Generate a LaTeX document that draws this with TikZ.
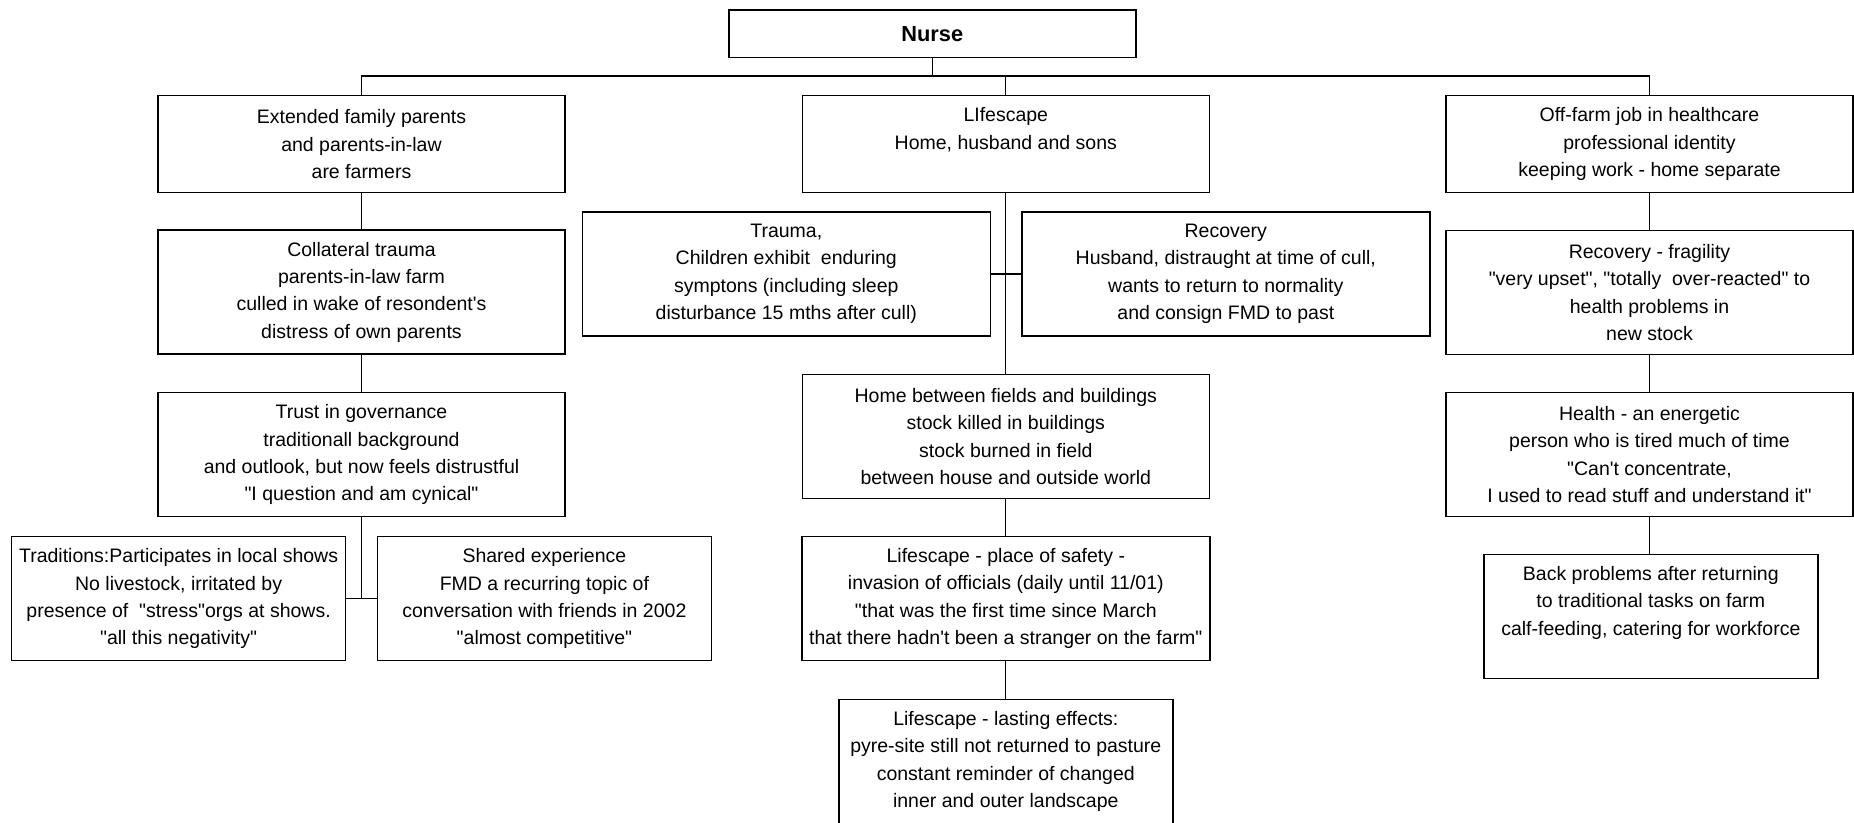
\documentclass[tikz,border=0pt]{standalone}
\usepackage{fontspec}
\newfontfamily\boxfont{Liberation Sans}
\begin{document}
\begin{tikzpicture}[x=1pt,y=-1pt,
  box/.style={draw=black, line width=1.5pt, inner sep=0pt, align=center,
    font=\boxfont\fontsize{19.5}{27.4}\selectfont},
  wide/.style={box, minimum width=407pt},
  narrow/.style={box, minimum width=334pt},
  short/.style={minimum height=96.8pt},
  tall/.style={minimum height=124pt},
  link/.style={draw=black, line width=1.2pt}]
\useasboundingbox (0,0) rectangle (1854,822);

% root
\node[wide, minimum height=47.3pt,
      font=\boxfont\bfseries\fontsize{21.8}{26}\selectfont] (nurse) at (932.3,33.7) {Nurse};

% first level
\node[wide, short] (ext)  at (361.5,144.1) {Extended family parents\\and parents-in-law\\are farmers};
\node[wide, short] (life) at (1005.8,144.1) {LIfescape\\Home, husband and sons\\\phantom{Hg}};
\node[wide, short] (off)  at (1649.5,144.1) {Off-farm job in healthcare\\professional identity\\keeping work - home separate};

% left column
\node[wide, tall] (coll)  at (361.5,292.2) {Collateral trauma\\parents-in-law farm\\culled in wake of resondent's\\distress of own parents};
\node[wide, tall] (trust) at (361.5,454.7) {Trust in governance\\traditionall background\\and outlook, but now feels distrustful\\"I question and am cynical"};
\node[narrow, tall] (trad)   at (178.6,598.7) {Traditions:Participates in local shows\\No livestock, irritated by\\presence of~ "stress"orgs at shows.\\"all this negativity"};
\node[narrow, tall] (shared) at (544.4,598.7) {Shared experience\\FMD a recurring topic of\\conversation with friends in 2002\\"almost competitive"};

% middle column
\node[box, minimum width=408pt, tall] (trauma) at (786.3,273.9) {Trauma,\\Children exhibit~ enduring\\symptons (including sleep\\disturbance 15 mths after cull)};
\node[box, minimum width=408pt, tall] (recov)  at (1225.8,273.9) {Recovery\\Husband, distraught at time of cull,\\wants to return to normality\\and consign FMD to past};
\node[wide, tall] (home)   at (1005.8,436.5) {Home between fields and buildings\\stock killed in buildings\\stock burned in field\\between house and outside world};
\node[box, minimum width=408pt, tall] (safety) at (1005.8,598.5) {Lifescape - place of safety -\\invasion of officials (daily until 11/01)\\"that was the first time since March\\that there hadn't been a stranger on the farm"};
\node[narrow, tall] (lasting) at (1005.8,761.5) {Lifescape - lasting effects:\\pyre-site still not returned to pasture\\constant reminder of changed\\inner and outer landscape};

% right column
\node[wide, tall] (frag)   at (1649.5,292.7) {Recovery - fragility\\"very upset", "totally~ over-reacted" to\\health problems in\\new stock};
\node[wide, tall] (health) at (1649.5,454.4) {Health - an energetic\\person who is tired much of time\\"Can't concentrate,\\I used to read stuff and understand it"};
\node[narrow, tall] (back)  at (1650.8,616.5) {Back problems after returning\\to traditional tasks on farm\\calf-feeding, catering for workforce\\\phantom{Hg}};

% connectors
\coordinate (bus) at (0,76);
\draw[link] (nurse.south) -- (nurse.south |- bus);
\draw[link] (ext.north) -- (ext.north |- bus) -- (off.north |- bus) -- (off.north);
\draw[link] (life.north) -- (life.north |- bus);

\draw[link] (ext.south) -- (coll.north);
\draw[link] (coll.south) -- (trust.north);
\draw[link] (trust.south) -- (trust.south |- trad.east);
\draw[link] (trad.east) -- (shared.west);

\draw[link] (life.south) -- (home.north);
\draw[link] (trauma.east) -- (recov.west);
\draw[link] (home.south) -- (safety.north);
\draw[link] (safety.south) -- (lasting.north);

\draw[link] (off.south) -- (frag.north);
\draw[link] (frag.south) -- (health.north);
\draw[link] (health.south) -- (health.south |- back.north);
\end{tikzpicture}
\end{document}
